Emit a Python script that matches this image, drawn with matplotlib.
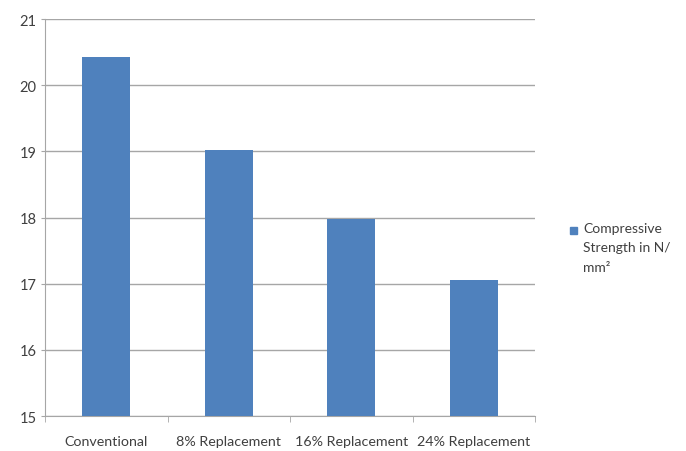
import numpy as np
import matplotlib.pyplot as plt
from matplotlib.patches import Rectangle

# Compressive strength of concrete mixes
categorias = ['Conventional', '8% Replacement', '16% Replacement', '24% Replacement']
resistencia = [20.43, 19.02, 17.97, 17.05]
rotulo_serie = 'Compressive\nStrength in N/\nmm²'

cor_barra = '#4F81BD'
cor_texto = '#404040'
cor_grade = '#A6A6A6'

plt.rcParams['font.family'] = ['Lato', 'DejaVu Sans']

fig = plt.figure(figsize=(6.86, 4.52), dpi=100)
ax = fig.add_axes([45 / 686, 35 / 452, 490 / 686, 397 / 452])

x = np.arange(len(categorias))
ax.bar(x, resistencia, width=0.39, color=cor_barra, zorder=3)

ax.set_xlim(-0.5, len(categorias) - 0.5)
ax.set_ylim(15, 21)
ax.set_yticks(np.arange(15, 22, 1))
ax.yaxis.grid(True, color=cor_grade, linewidth=1.0, zorder=0)

ax.set_xticks(x)
ax.set_xticklabels(categorias, fontsize=10.3, color=cor_texto)
ax.set_xticks(np.arange(-0.5, len(categorias), 1), minor=True)
ax.tick_params(axis='x', which='major', length=0, pad=14)
ax.tick_params(axis='x', which='minor', length=4, color=cor_grade)
ax.tick_params(axis='y', length=3, color=cor_grade, labelsize=10.5,
               labelcolor=cor_texto, pad=3)

for lado in ['top', 'right']:
    ax.spines[lado].set_visible(False)
for lado in ['left', 'bottom']:
    ax.spines[lado].set_color(cor_grade)

# legenda: quadrado alinhado com a primeira linha do texto
fig.patches.append(Rectangle((570 / 686, 1 - 235 / 452), 7 / 686, 7 / 452,
                             transform=fig.transFigure, color=cor_barra))
fig.text(583 / 686, 1 - 223 / 452, rotulo_serie, va='top', ha='left',
         fontsize=10, color=cor_texto, linespacing=1.75)

fig.savefig('out.png', dpi=100)
